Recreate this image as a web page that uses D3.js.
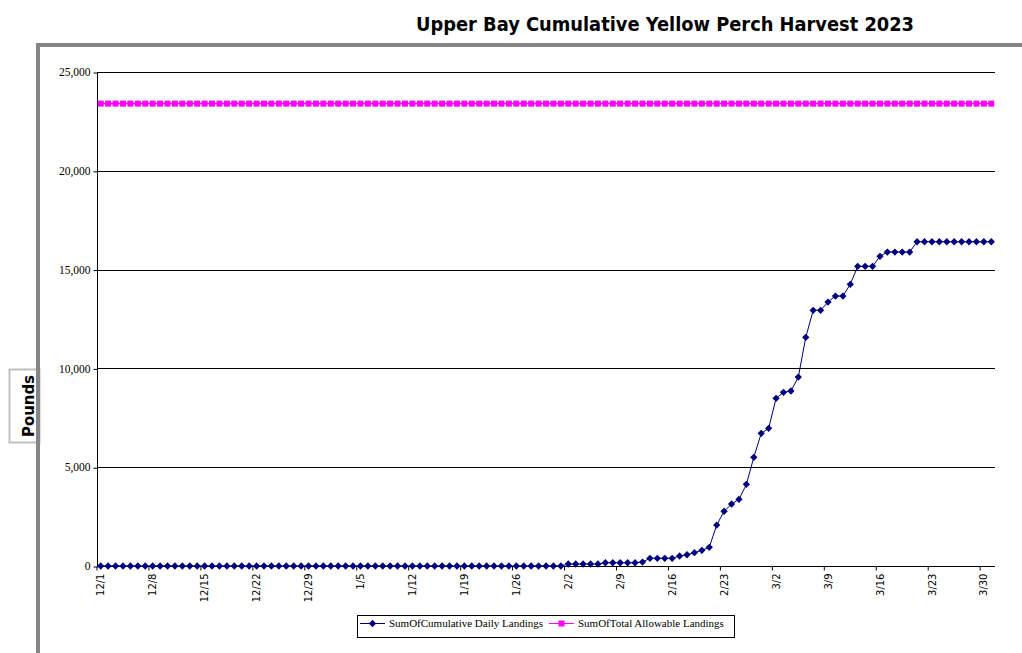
<!DOCTYPE html>
<html>
<head>
<meta charset="utf-8">
<script src="https://cdn.jsdelivr.net/npm/d3@7"></script>
<style>
  html, body { margin: 0; padding: 0; background: #fff; }
  svg { display: block; }
</style>
</head>
<body>
<svg id="chart" width="1022" height="653"></svg>
<script>
// ---- data ----
const titleText = "Upper Bay Cumulative Yellow Perch Harvest 2023";
const yAxisTitle = "Pounds";
const seriesNames = ["SumOfCumulative Daily Landings", "SumOfTotal Allowable Landings"];
const startDate = new Date(2022, 11, 1);   // 12/1
const endDate = new Date(2023, 3, 1);      // exclusive -> last day 3/31
const yTicks = [0, 5000, 10000, 15000, 20000, 25000];

// cumulative daily landings, one per day 12/1 .. 3/31
const cumulative = [
  // 12/1 - 12/31
  0,0,0,0,0,0,0,0,0,0, 0,0,0,0,0,0,0,0,0,0, 0,0,0,0,0,0,0,0,0,0, 0,
  // 1/1 - 1/31
  0,0,0,0,0,0,0,0,0,0, 0,0,0,0,0,0,0,0,0,0, 0,0,0,0,0,0,0,0,0,0, 0,
  // 2/1 - 2/28
  0, 100, 100, 100, 100, 100, 165, 165, 165, 165,
  165, 200, 390, 390, 390, 390, 506, 570, 673, 794,
  946, 2070, 2770, 3137, 3375, 4133, 5500, 6714,
  // 3/1 - 3/31
  6967, 8486, 8790, 8855, 9563, 11572, 12938, 12938, 13358, 13662,
  13662, 14254, 15165, 15165, 15165, 15671, 15888, 15888, 15888, 15888,
  16410, 16410, 16410, 16410, 16410, 16410, 16410, 16410, 16410, 16410, 16410
];
// total allowable landings, one per day
const allowable = [
  23400,23400,23400,23400,23400,23400,23400,23400,23400,23400,23400,23400,23400,23400,23400,23400,23400,23400,23400,23400,
  23400,23400,23400,23400,23400,23400,23400,23400,23400,23400,23400,23400,23400,23400,23400,23400,23400,23400,23400,23400,
  23400,23400,23400,23400,23400,23400,23400,23400,23400,23400,23400,23400,23400,23400,23400,23400,23400,23400,23400,23400,
  23400,23400,23400,23400,23400,23400,23400,23400,23400,23400,23400,23400,23400,23400,23400,23400,23400,23400,23400,23400,
  23400,23400,23400,23400,23400,23400,23400,23400,23400,23400,23400,23400,23400,23400,23400,23400,23400,23400,23400,23400,
  23400,23400,23400,23400,23400,23400,23400,23400,23400,23400,23400,23400,23400,23400,23400,23400,23400,23400,23400,23400,
  23400
];

const days = d3.timeDay.range(startDate, endDate);
const fmtDay = d3.timeFormat("%-m/%-d");
const categories = days.map(fmtDay);

// ---- layout ----
const svg = d3.select("#chart");
const plot = { left: 97, right: 995, top: 72, bottom: 566 };

const x = d3.scaleBand().domain(categories).range([plot.left, plot.right]).padding(0);
const y = d3.scaleLinear().domain([0, 25000]).range([plot.bottom, plot.top]);
const bw = x.bandwidth();

// chart area frame (left/top visible)
svg.append("rect")
  .attr("x", 38).attr("y", 45)
  .attr("width", 1022).attr("height", 700)
  .attr("fill", "none").attr("stroke", "#858585").attr("stroke-width", 4);

// title
svg.append("text")
  .attr("x", 665).attr("y", 31)
  .attr("text-anchor", "middle")
  .attr("font-family", "'DejaVu Sans', Verdana, sans-serif")
  .attr("font-weight", "bold")
  .attr("font-size", 20)
  .attr("textLength", 498).attr("lengthAdjust", "spacingAndGlyphs")
  .text(titleText);

// y axis title box
svg.append("rect")
  .attr("x", 9.5).attr("y", 369.5).attr("width", 30).attr("height", 73)
  .attr("fill", "#fff").attr("stroke", "#c0c0c0").attr("stroke-width", 2);
svg.append("line")
  .attr("x1", 38).attr("x2", 38).attr("y1", 360).attr("y2", 450)
  .attr("stroke", "#858585").attr("stroke-width", 4);
svg.append("text")
  .attr("transform", "translate(34,406) rotate(-90)")
  .attr("text-anchor", "middle")
  .attr("font-family", "'DejaVu Sans', Verdana, sans-serif")
  .attr("font-weight", "bold")
  .attr("font-size", 15)
  .attr("textLength", 62).attr("lengthAdjust", "spacingAndGlyphs")
  .text(yAxisTitle);

// gridlines
svg.append("g").selectAll("line")
  .data(yTicks.filter(d => d > 0))
  .join("line")
  .attr("x1", plot.left).attr("x2", plot.right)
  .attr("y1", d => Math.round(y(d)) + 0.5).attr("y2", d => Math.round(y(d)) + 0.5)
  .attr("stroke", "#000").attr("stroke-width", 1);

// y axis
const yAxis = svg.append("g")
  .attr("transform", `translate(${plot.left + 0.5},0)`)
  .call(d3.axisLeft(y).tickValues(yTicks).tickSize(4).tickPadding(3).tickFormat(d3.format(",")));
yAxis.select(".domain").attr("d", `M0,${plot.top}V${plot.bottom + 0.5}`).attr("stroke", "#000");
yAxis.selectAll(".tick line").attr("stroke", "#000")
  .attr("transform", "translate(0,0.5)");
yAxis.selectAll("text")
  .attr("font-family", "'Liberation Serif', 'Times New Roman', serif")
  .attr("font-size", 11.5).attr("fill", "#000");

// x axis
const tickCats = categories.filter((d, i) => i % 7 === 0);
const xAxis = svg.append("g")
  .attr("transform", `translate(0,${plot.bottom + 0.5})`)
  .call(d3.axisBottom(x).tickValues(tickCats).tickSize(4).tickSizeOuter(0));
xAxis.select(".domain").attr("d", `M${plot.left},0H${plot.right}`).attr("stroke", "#000");
xAxis.selectAll(".tick line").attr("x1", -bw / 2).attr("x2", -bw / 2).attr("stroke", "#000");
xAxis.selectAll(".tick text")
  .attr("transform", "rotate(-90)")
  .attr("text-anchor", "end")
  .attr("x", -7).attr("y", 0).attr("dy", "0.36em")
  .attr("font-family", "'DejaVu Sans', Verdana, sans-serif")
  .attr("font-size", 10).attr("fill", "#000");

// series
const navy = "#000080", pink = "#FF00FF";
const line = d3.line().x((d, i) => x(categories[i]) + bw / 2).y(d => y(d));

svg.append("path").datum(allowable)
  .attr("d", line).attr("fill", "none").attr("stroke", pink).attr("stroke-width", 1.5);
svg.append("g").selectAll("rect")
  .data(allowable).join("rect")
  .attr("x", (d, i) => x(categories[i]) + bw / 2 - 3)
  .attr("y", d => y(d) - 3)
  .attr("width", 6).attr("height", 6)
  .attr("fill", pink);

svg.append("path").datum(cumulative)
  .attr("d", line).attr("fill", "none").attr("stroke", navy).attr("stroke-width", 1);
const diamond = d3.symbol().type(d3.symbolDiamond2).size(34);
svg.append("g").selectAll("path")
  .data(cumulative).join("path")
  .attr("transform", (d, i) => `translate(${x(categories[i]) + bw / 2},${y(d)})`)
  .attr("d", diamond)
  .attr("fill", navy);

// legend
const lg = svg.append("g");
lg.append("rect")
  .attr("x", 357.5).attr("y", 615.5).attr("width", 377).attr("height", 22)
  .attr("fill", "#fff").attr("stroke", "#000").attr("stroke-width", 1);
const legendItems = [
  { name: seriesNames[0], color: navy, x: 360, marker: "diamond" },
  { name: seriesNames[1], color: pink, x: 549, marker: "square" }
];
legendItems.forEach(it => {
  const cy = 623.5;
  lg.append("line").attr("x1", it.x).attr("x2", it.x + 25).attr("y1", cy).attr("y2", cy)
    .attr("stroke", it.color).attr("stroke-width", 1);
  if (it.marker === "diamond") {
    lg.append("path").attr("transform", `translate(${it.x + 12.5},${cy})`)
      .attr("d", diamond).attr("fill", it.color);
  } else {
    lg.append("rect").attr("x", it.x + 9.5).attr("y", cy - 3).attr("width", 6).attr("height", 6)
      .attr("fill", it.color);
  }
  lg.append("text").attr("x", it.x + 29).attr("y", cy).attr("dy", "0.35em")
    .attr("font-family", "'Liberation Serif', 'Times New Roman', serif")
    .attr("font-size", 11).attr("fill", "#000")
    .text(it.name);
});
</script>
</body>
</html>
